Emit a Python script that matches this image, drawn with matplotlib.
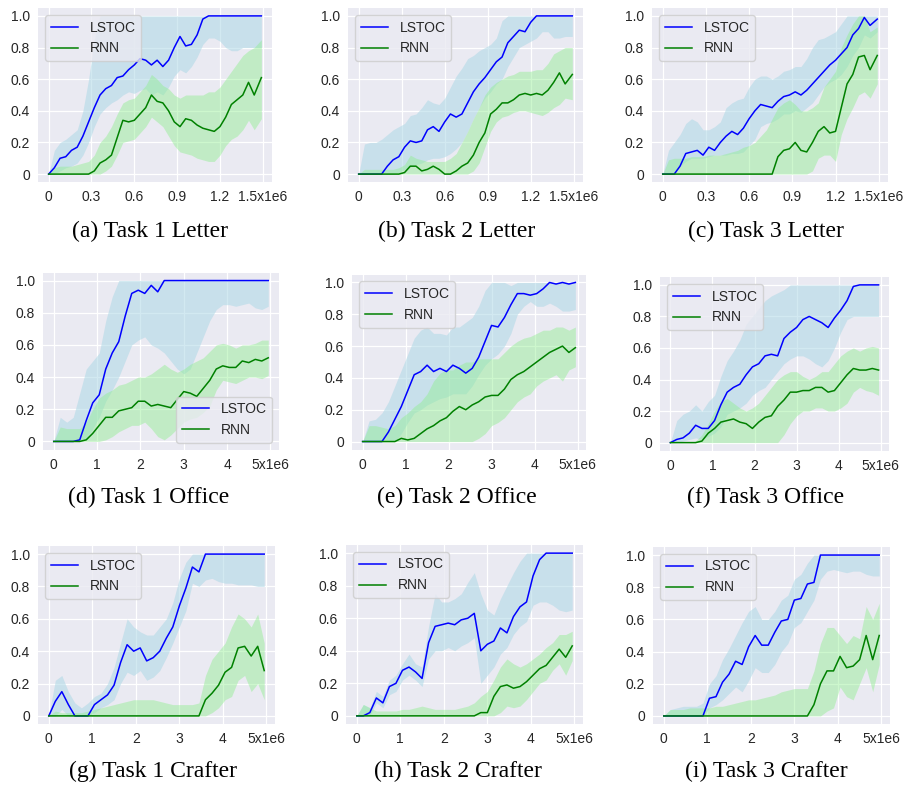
import matplotlib
matplotlib.use("Agg")
import matplotlib.pyplot as plt

# ---------------------------------------------------------------- data
# training steps (x1e6)
STEPS_LETTER = [0, .04, .08, .12, .16, .20, .24, .28, .32, .36, .40, .44, .48,
                .52, .56, .60, .64, .68, .72, .76, .80, .84, .88, .92, .96, 1.00,
                1.04, 1.08, 1.12, 1.16, 1.20, 1.24, 1.28, 1.32, 1.36, 1.40, 1.44, 1.49]
STEPS_LONG = [0, .15, .30, .45, .60, .75, .90, 1.05, 1.20, 1.35, 1.50, 1.65,
              1.80, 1.95, 2.10, 2.25, 2.40, 2.55, 2.70, 2.85, 3.00, 3.15, 3.30,
              3.45, 3.60, 3.75, 3.90, 4.05, 4.20, 4.35, 4.50, 4.65, 4.80, 4.95]

X_TICKS_LETTER = [0, 0.3, 0.6, 0.9, 1.2, 1.5]
X_LABELS_LETTER = ["0", "0.3", "0.6", "0.9", "1.2", "1.5x1e6"]
X_TICKS_LONG = [0, 1, 2, 3, 4, 5]
X_LABELS_LONG = ["0", "1", "2", "3", "4", "5x1e6"]
Y_TICKS = [0, 0.2, 0.4, 0.6, 0.8, 1.0]
Y_LABELS = ["0", "0.2", "0.4", "0.6", "0.8", "1.0"]

CAPTIONS = ["(a) Task 1 Letter", "(b) Task 2 Letter", "(c) Task 3 Letter",
            "(d) Task 1 Office", "(e) Task 2 Office", "(f) Task 3 Office",
            "(g) Task 1 Crafter", "(h) Task 2 Crafter", "(i) Task 3 Crafter"]

# (a) Task 1 Letter
A_LSTOC = [0, .04, .10, .11, .15, .17, .24, .33, .42, .50, .54, .56, .61, .62, .66,
           .69, .73, .72, .69, .72, .68, .72, .80, .87, .81, .82, .88, .98] + [1.0] * 10
A_LSTOC_LO = [0, 0, .02, .04, .05, .07, .12, .20, .30, .38, .42, .45, .47, .50, .52,
              .51, .53, .54, .50, .52, .50, .55, .62, .66, .64, .68, .74, .82, .86,
              .86, .84, .80, .78, .78, .80, .80, .80, .80]
A_LSTOC_HI = [0, .15, .20, .22, .25, .28, .40, .60, .85] + [1.0] * 29
A_RNN = [0] * 8 + [.02, .07, .09, .12, .23, .34, .33, .34, .38, .42, .50, .46, .45,
                   .40, .33, .30, .35, .34, .31, .29, .28, .27, .30, .36, .44, .47,
                   .50, .58, .50, .61]
A_RNN_LO = [0] * 10 + [.02, .05, .12, .20, .21, .22, .26, .30, .36, .33, .30, .24,
                       .18, .14, .13, .12, .10, .09, .08, .08, .12, .18, .22, .24,
                       .28, .34, .28, .35]
A_RNN_HI = [0, .04, .05, .05, .05, .06, .07, .08, .12, .20, .24, .30, .38, .45, .47,
            .48, .52, .56, .63, .60, .56, .54, .50, .48, .50, .50, .50, .50, .52,
            .52, .55, .60, .65, .70, .75, .78, .80, .85]

# (b) Task 2 Letter
B_LSTOC = [0] * 5 + [.05, .09, .11, .17, .21, .20, .21, .28, .30, .27, .33, .38, .36,
                     .38, .45, .52, .57, .61, .66, .71, .74, .83, .87, .91, .90,
                     .96] + [1.0] * 7
B_LSTOC_LO = [0] * 7 + [.01, .03, .05, .06, .07, .09, .10, .10, .11, .13, .16, .20,
                        .27, .35, .42, .48, .52, .57, .60, .68, .74, .80, .82, .84,
                        .86, .90, .90, .86, .86, .87, .87]
B_LSTOC_HI = [0, .19, .20, .20, .22, .25, .28, .30, .32, .37, .38, .42, .47, .45,
              .44, .48, .55, .62, .67, .73, .75, .78, .80, .82, .86, .97] + [1.0] * 12
B_RNN = [0] * 7 + [0, .01, .05, .05, .02, .03, .05, .03, 0, 0, .02, .05, .07, .12,
                   .20, .26, .38, .41, .45, .45, .47, .50, .51, .50, .51, .50, .53,
                   .58, .64, .57, .63]
B_RNN_LO = [0] * 20 + [.02, .07, .17, .27, .33, .36, .37, .39, .40, .40, .39, .38,
                       .37, .39, .42, .44, .48, .47]
B_RNN_HI = [0, .03, .03, .03, .03, .03, .03, .04, .06, .12, .10, .09, .08, .08, .08,
            .08, .10, .13, .20, .27, .35, .42, .50, .55, .58, .60, .62, .63, .65,
            .65, .65, .66, .66, .70, .76, .78, .80, .80]

# (c) Task 3 Letter
C_LSTOC = [0, 0, 0, .05, .13, .14, .15, .12, .17, .15, .20, .24, .27, .25, .29, .35,
           .40, .44, .43, .42, .46, .49, .50, .52, .50, .53, .57, .61, .65, .69, .72,
           .76, .80, .88, .92, .99, .94, .98]
C_LSTOC_LO = [0, 0, 0, .05, .08, .10, .10, .10, .11, .12, .12, .12, .13, .13, .14,
              .18, .22, .30, .32, .33, .35, .38, .38, .40, .39, .42, .45, .50, .55,
              .58, .60, .63, .68, .75, .80, .88, .86, .90]
C_LSTOC_HI = [0, .15, .20, .25, .32, .35, .33, .28, .28, .30, .33, .42, .45, .47, .48,
              .55, .60, .62, .62, .60, .62, .65, .66, .68, .68, .73, .80, .85, .86,
              .88, .90, .95] + [1.0] * 6
C_RNN = [0] * 20 + [.11, .15, .16, .20, .15, .14, .20, .27, .30, .26, .27, .42, .57,
                    .63, .74, .75, .66, .75]
C_RNN_LO = [0] * 26 + [.02, .10, .12, .12, .08, .25, .35, .42, .50, .52, .48, .57]
C_RNN_HI = [0, .09, .10, .10, .10, .11, .11, .11, .12, .12, .12, .13, .14, .15, .17,
            .18, .20, .24, .28, .35, .42, .45, .47, .44, .40, .40, .42, .45, .55,
            .60, .65, .80, .88, .95, 1.0, 1.0, .90, .93]

# (d) Task 1 Office
D_LSTOC = [0, 0, 0, 0, .01, .13, .24, .29, .45, .55, .62, .78, .92, .94, .92, .97,
           .93] + [1.0] * 17
D_LSTOC_LO = [0, 0, 0, 0, 0, .02, .08, .15, .25, .32, .40, .50, .60, .63, .65, .60,
              .58, .55, .50, .45, .42, .45, .55, .65, .75, .82, .85, .85, .84, .85,
              .86, .83, .82, .84]
D_LSTOC_HI = [0, .15, .12, .15, .30, .45, .50, .55, .75, .90] + [1.0] * 24
D_RNN = [0, 0, 0, 0, 0, .01, .05, .10, .15, .15, .19, .20, .21, .25, .25, .22, .23,
         .22, .21, .26, .31, .30, .28, .33, .38, .45, .47, .46, .46, .50, .49, .51,
         .50, .52]
D_RNN_LO = [0, 0, 0, 0, 0, 0, 0, 0, .01, .03, .06, .08, .10, .10, .12, .08, .03, .01,
            .04, .08, .12, .14, .15, .18, .22, .32, .38, .37, .36, .38, .40, .40,
            .39, .41]
D_RNN_HI = [0, .09, .08, .08, .08, .12, .20, .27, .30, .32, .35, .36, .38, .40, .40,
            .42, .45, .48, .45, .43, .45, .48, .50, .52, .56, .60, .61, .60, .58,
            .60, .60, .61, .63, .63]

# (e) Task 2 Office
E_LSTOC = [0, 0, 0, 0, .06, .14, .22, .32, .42, .44, .48, .44, .46, .44, .48, .46,
           .43, .46, .53, .63, .73, .72, .78, .86, .93, .93, .92, .93, .96, 1.0, .99,
           1.0, .99, 1.0]
E_LSTOC_LO = [0, 0, 0, 0, 0, 0, .05, .12, .18, .20, .23, .25, .27, .28, .30, .30,
              .30, .35, .42, .48, .52, .55, .60, .68, .80, .85, .88, .85, .85, .87,
              .85, .82, .82, .83]
E_LSTOC_HI = [0, .13, .14, .18, .25, .35, .45, .55, .65, .70, .72, .68, .68, .67,
              .72, .72, .75, .78, .85, .95, 1.0, 1.0, 1.0, .98] + [1.0] * 10
E_RNN = [0, 0, 0, 0, 0, 0, .02, .01, .02, .05, .08, .10, .13, .15, .19, .22, .20,
         .23, .25, .28, .29, .29, .33, .39, .42, .44, .47, .50, .53, .56, .58, .60,
         .56, .59]
E_RNN_LO = [0] * 17 + [0, .02, .05, .10, .12, .15, .20, .25, .28, .30, .35, .38,
                       .40, .42, .38, .45, .47]
E_RNN_HI = [0, .10, .10, .09, .08, .10, .15, .18, .22, .25, .30, .38, .43, .45, .45,
            .48, .50, .50, .52, .52, .52, .52, .56, .60, .63, .65, .66, .68, .70,
            .70, .72, .72, .70, .72]

# (f) Task 3 Office
F_LSTOC = [0, .02, .03, .06, .11, .09, .09, .14, .24, .32, .35, .37, .43, .48, .50,
           .55, .56, .55, .66, .70, .73, .78, .80, .78, .76, .73, .79, .84, .90, .99,
           1.0, 1.0, 1.0, 1.0]
F_LSTOC_LO = [0, 0, .01, .02, .03, .02, .04, .06, .10, .18, .20, .22, .25, .30, .33,
              .35, .40, .45, .50, .53, .55, .55, .53, .50, .48, .52, .60, .70, .78,
              .80, .80, .80, .80, .80]
F_LSTOC_HI = [0, .14, .18, .20, .24, .20, .26, .30, .42, .52, .58, .65, .75, .80,
              .85, .90, .93, .95, .97] + [1.0] * 15
F_RNN = [0, 0, 0, 0, 0, .01, .06, .09, .13, .14, .15, .13, .12, .09, .13, .16, .17,
         .23, .27, .32, .32, .33, .33, .35, .35, .32, .33, .38, .43, .47, .46, .46,
         .47, .46]
F_RNN_LO = [0] * 18 + [.05, .12, .17, .20, .20, .22, .22, .20, .20, .22, .25, .32,
                       .35, .33, .32, .30]
F_RNN_HI = [0, 0, 0, 0, .01, .05, .12, .20, .26, .28, .25, .22, .20, .22, .25, .30,
            .35, .40, .43, .45, .45, .42, .40, .42, .45, .45, .50, .55, .58, .60,
            .58, .60, .61, .60]

# (g) Task 1 Crafter
G_LSTOC = [0, .09, .15, .07, 0, 0, 0, .07, .10, .13, .19, .33, .44, .40, .42, .34,
           .36, .40, .48, .55, .68, .79, .92, .89] + [1.0] * 10
G_LSTOC_LO = [0, 0, .04, 0, 0, 0, 0, .02, .05, .07, .10, .20, .27, .25, .28, .22,
              .24, .28, .36, .45, .55, .65, .82, .80, .84, .85, .83, .82, .82, .81,
              .81, .81, .80, .80]
G_LSTOC_HI = [0, .22, .25, .15, .08, .05, .08, .12, .14, .20, .30, .45, .60, .55,
              .52, .50, .50, .55, .60, .70, .85, .95] + [1.0] * 12
G_RNN = [0] * 24 + [.10, .14, .19, .27, .30, .42, .43, .37, .43, .28]
G_RNN_LO = [0] * 25 + [.02, .05, .10, .12, .22, .25, .15, .20, .10]
G_RNN_HI = [0, .03, .02, .02, .02, .02, .03, .04, .05, .06, .07, .08, .09, .10, .10,
            .10, .10, .09, .08, .07, .07, .07, .07, .08, .25, .35, .40, .45, .55,
            .63, .60, .55, .63, .45]

# (h) Task 2 Crafter
H_LSTOC = [0, 0, .02, .11, .08, .18, .20, .28, .30, .27, .23, .45, .55, .56, .57,
           .56, .59, .60, .63, .40, .44, .46, .54, .51, .61, .67, .70, .86,
           .96] + [1.0] * 5
H_LSTOC_LO = [0, 0, 0, .08, .05, .13, .15, .22, .25, .22, .18, .35, .40, .40, .42,
              .40, .43, .45, .48, .20, .25, .30, .38, .42, .50, .55, .58, .68, .70,
              .70, .68, .65, .64, .65]
H_LSTOC_HI = [0, .07, .05, .15, .12, .22, .25, .32, .38, .32, .30, .55, .75, .70,
              .70, .72, .75, .82, .88, .75, .65, .62, .72, .80, .88, .95] + [1.0] * 8
H_RNN = [0] * 19 + [.02, .02, .12, .18, .19, .17, .18, .21, .25, .29, .31, .36, .41,
                    .36, .43]
H_RNN_LO = [0] * 22 + [.02, .06, .05, .06, .10, .15, .20, .22, .28, .32, .25, .34]
H_RNN_HI = [0, .07, .05, .03, .03, .03, .03, .04, .04, .05, .06, .05, .04, .04, .04,
            .04, .05, .06, .08, .12, .15, .22, .30, .35, .32, .30, .32, .35, .38,
            .42, .45, .50, .50, .52]

# (i) Task 3 Crafter
I_LSTOC = [0] * 7 + [.11, .12, .21, .26, .34, .32, .43, .50, .44, .44, .52, .59, .60,
                     .72, .73, .82, .83] + [1.0] * 10
I_LSTOC_LO = [0] * 7 + [.05, .07, .10, .14, .18, .15, .22, .30, .27, .27, .32, .40,
                        .45, .55, .58, .65, .72, .85, .90, .91, .90, .89, .90, .90,
                        .88, .87, .87]
I_LSTOC_HI = [0, .04, .05, .06, .06, .06, .08, .20, .25, .35, .42, .50, .58, .65,
              .68, .60, .60, .65, .72, .75, .85, .88, .95] + [1.0] * 11
I_RNN = [0] * 23 + [.07, .20, .28, .28, .37, .30, .31, .35, .50, .35, .50]
I_RNN_LO = [0] * 25 + [.03, .05, .18, .12, .10, .20, .30, .15, .32]
I_RNN_HI = [0, .04, .04, .04, .05, .05, .05, .05, .06, .06, .07, .08, .09, .10, .10,
            .11, .12, .13, .15, .16, .17, .17, .17, .28, .45, .55, .55, .50, .45,
            .50, .48, .68, .60, .70]

PANELS = [
    (STEPS_LETTER, A_LSTOC, A_LSTOC_LO, A_LSTOC_HI, A_RNN, A_RNN_LO, A_RNN_HI),
    (STEPS_LETTER, B_LSTOC, B_LSTOC_LO, B_LSTOC_HI, B_RNN, B_RNN_LO, B_RNN_HI),
    (STEPS_LETTER, C_LSTOC, C_LSTOC_LO, C_LSTOC_HI, C_RNN, C_RNN_LO, C_RNN_HI),
    (STEPS_LONG, D_LSTOC, D_LSTOC_LO, D_LSTOC_HI, D_RNN, D_RNN_LO, D_RNN_HI),
    (STEPS_LONG, E_LSTOC, E_LSTOC_LO, E_LSTOC_HI, E_RNN, E_RNN_LO, E_RNN_HI),
    (STEPS_LONG, F_LSTOC, F_LSTOC_LO, F_LSTOC_HI, F_RNN, F_RNN_LO, F_RNN_HI),
    (STEPS_LONG, G_LSTOC, G_LSTOC_LO, G_LSTOC_HI, G_RNN, G_RNN_LO, G_RNN_HI),
    (STEPS_LONG, H_LSTOC, H_LSTOC_LO, H_LSTOC_HI, H_RNN, H_RNN_LO, H_RNN_HI),
    (STEPS_LONG, I_LSTOC, I_LSTOC_LO, I_LSTOC_HI, I_RNN, I_RNN_LO, I_RNN_HI),
]

# ---------------------------------------------------------------- layout
W, H = 907, 787
# axes boxes in pixels: left, top, right, bottom
BOXES = [(38, 8, 272, 182), (348, 8, 583, 182), (652, 8, 888, 182),
         (43, 272.5, 279, 449.5), (352, 274.5, 586, 449.5), (660, 277, 889, 450.5),
         (38, 546, 275, 724), (346, 545, 583, 724), (653, 547, 890, 724)]
CAPTION_POS = [(150, 237), (457, 237), (766, 237),
               (149, 503), (457, 503), (766, 503),
               (153, 777), (458, 777), (766, 777)]

BG = "#EAEAF2"
TEXT = "#262626"
SANS = ["Liberation Sans", "DejaVu Sans"]
SERIF = ["Liberation Serif", "DejaVu Serif"]

plt.rcParams["font.family"] = SANS

fig = plt.figure(figsize=(W / 100, H / 100), dpi=100)
fig.patch.set_facecolor("white")

for k, (steps, ls, ls_lo, ls_hi, rn, rn_lo, rn_hi) in enumerate(PANELS):
    l, t, r, b = BOXES[k]
    ax = fig.add_axes([l / W, 1 - b / H, (r - l) / W, (b - t) / H])
    ax.set_facecolor(BG)
    for s in ax.spines.values():
        s.set_visible(False)
    ax.grid(True, color="white", linewidth=0.9)
    ax.set_axisbelow(True)

    ax.fill_between(steps, ls_lo, ls_hi, color="lightblue", alpha=0.55,
                    linewidth=0)
    ax.fill_between(steps, rn_lo, rn_hi, color="lightgreen", alpha=0.45,
                    linewidth=0)
    ax.plot(steps, ls, color="blue", linewidth=1.1, label="LSTOC")
    ax.plot(steps, rn, color="green", linewidth=1.1, label="RNN")

    if k < 3:
        ax.set_xlim(-0.0745, 1.5645)
        ax.set_xticks(X_TICKS_LETTER)
        ax.set_xticklabels(X_LABELS_LETTER)
    else:
        ax.set_xlim(-0.2475, 5.1975)
        ax.set_xticks(X_TICKS_LONG)
        ax.set_xticklabels(X_LABELS_LONG)
    ax.set_ylim(-0.05, 1.05)
    ax.set_yticks(Y_TICKS)
    ax.set_yticklabels(Y_LABELS)
    ax.tick_params(length=0, pad=5.8, labelsize=10, labelcolor=TEXT)

    leg = ax.legend(loc="lower right" if k == 3 else "upper left",
                    fontsize=10, frameon=True, fancybox=True,
                    facecolor=BG, edgecolor="#CCCCCC", framealpha=0.8)
    for txt in leg.get_texts():
        txt.set_color(TEXT)

    cx, cy = CAPTION_POS[k]
    fig.text(cx / W, 1 - cy / H, CAPTIONS[k], ha="center", va="baseline",
             fontsize=17, family=SERIF, color="black")

fig.savefig("out.png", dpi=100, facecolor="white")
